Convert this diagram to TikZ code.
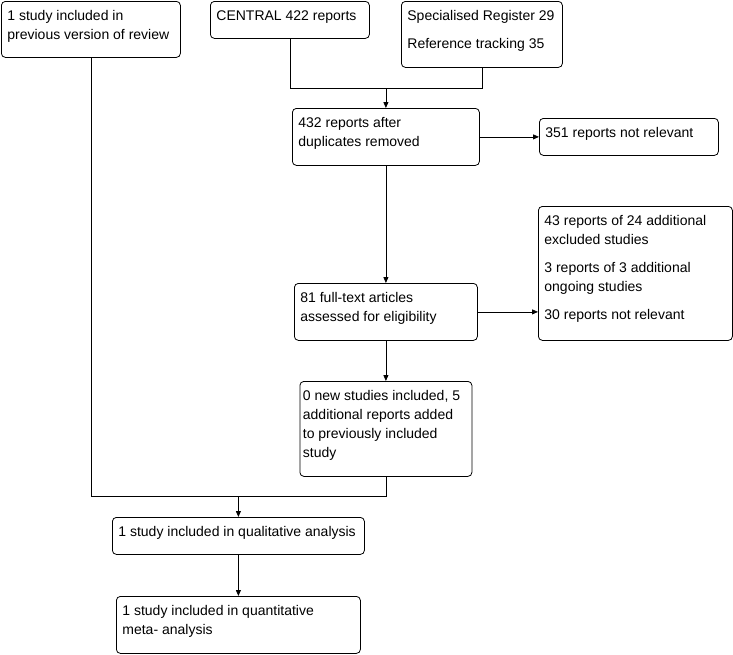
\documentclass[tikz,border=0pt]{standalone}
\usepackage{fontspec}
\setmainfont{Liberation Sans}
\usepackage{tikz}
\usetikzlibrary{arrows.meta}

\newcommand{\boxtext}[3]{\parbox[c][\dimexpr#2-12pt\relax][t]{\dimexpr#1-12pt\relax}{\raggedright\strut #3}}

\begin{document}
\begin{tikzpicture}[
    x=1pt, y=-1pt,
    box/.style={draw, rounded corners=4pt, anchor=north west, inner xsep=6pt, inner ysep=6pt, line width=0.8pt, font=\fontsize{14}{19}\selectfont},
    arrow/.style={line width=0.8pt, -{Triangle[length=6pt, width=5pt]}},
    line/.style={line width=0.8pt}
]
\useasboundingbox (0,0) rectangle (733,654);

% Boxes
\node[box] (prev) at (1,1) {\boxtext{179pt}{56pt}{1 study included in\\previous version of review}};
\node[box] (central) at (210,1) {\boxtext{159pt}{37pt}{CENTRAL 422 reports}};
\node[box] (spec) at (401,1) {\boxtext{161pt}{66pt}{Specialised Register 29\\[9pt]Reference tracking 35}};
\node[box] (dedup) at (292,108) {\boxtext{187pt}{57pt}{432 reports after\\duplicates removed}};
\node[box] (notrel) at (539,118) {\boxtext{179pt}{37pt}{351 reports not relevant}};
\node[box] (fulltext) at (294,283) {\boxtext{183pt}{57pt}{81 full-text articles\\assessed for eligibility}};
\node[box] (excluded) at (538,206) {\boxtext{194pt}{134pt}{43 reports of 24 additional\\excluded studies\\[9pt]3 reports of 3 additional\\ongoing studies\\[9pt]30 reports not relevant}};
\node[box, inner xsep=3pt] (newstudies) at (299.5,381) {\parbox[c][83pt][t]{166pt}{\raggedright\strut 0 new studies included, 5\\additional reports added\\to previously included\\study}};
\node[box] (qual) at (112,517) {\boxtext{252pt}{37pt}{1 study included in qualitative analysis}};
\node[box] (quant) at (116,596) {\boxtext{244pt}{57pt}{1 study included in quantitative\\meta- analysis}};

% Join points
\path (dedup.north) ++(0,-20) coordinate (topjoin);
\path (qual.north) ++(0,-21) coordinate (botjoin);

% Connections - search
\draw[line] (central.south) -- (central.south |- topjoin) -- (spec.south |- topjoin) -- (spec.south);
\draw[arrow] (topjoin) -- (dedup.north);
\draw[arrow] (dedup.east) -- (notrel.west);
\draw[arrow] (dedup.south) -- (fulltext.north);
\draw[arrow] (fulltext.east) -- (fulltext.east -| excluded.west);
\draw[arrow] (fulltext.south) -- (fulltext.south |- newstudies.north);

% Connections - included
\draw[line] (prev.south) -- (prev.south |- botjoin) -- (newstudies.south |- botjoin) -- (newstudies.south);
\draw[arrow] (botjoin) -- (qual.north);
\draw[arrow] (qual.south) -- (quant.north);

\end{tikzpicture}
\end{document}
